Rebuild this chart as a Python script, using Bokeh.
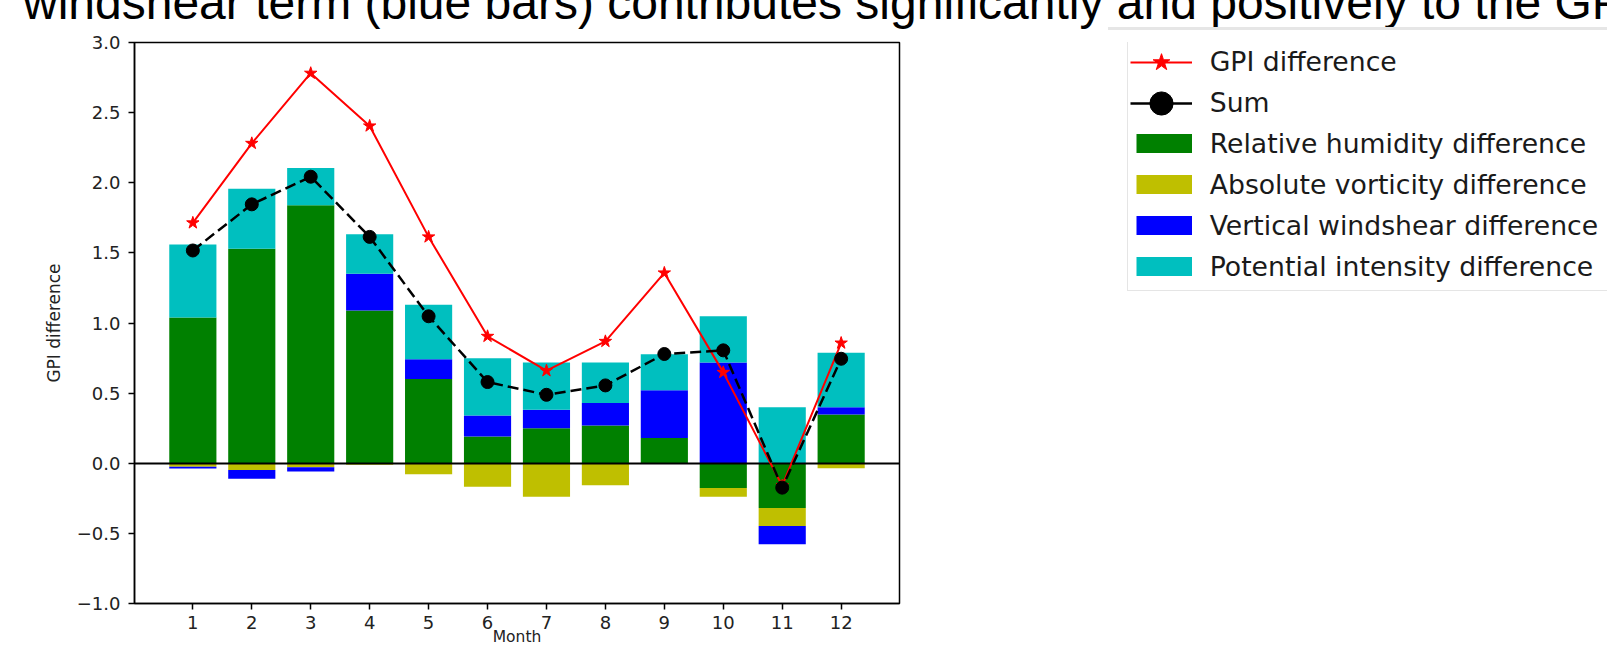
import numpy as np
from bokeh.plotting import figure
from bokeh.layouts import column, row
from bokeh.models import (Range1d, FixedTicker, Legend, LegendItem, Div)
from bokeh.embed import file_html
from bokeh.resources import INLINE

# ---------------- data ----------------
months = [1, 2, 3, 4, 5, 6, 7, 8, 9, 10, 11, 12]
month_labels = ["1", "2", "3", "4", "5", "6", "7", "8", "9", "10", "11", "12"]
y_ticks = [-1.0, -0.5, 0.0, 0.5, 1.0, 1.5, 2.0, 2.5, 3.0]
y_tick_labels = ["\u22121.0", "\u22120.5", "0.0", "0.5", "1.0", "1.5", "2.0", "2.5", "3.0"]

rh_diff = [1.04, 1.53, 1.84, 1.09, 0.60, 0.19, 0.25, 0.27, 0.18, -0.176, -0.319, 0.348]
av_diff = [-0.025, -0.048, -0.028, -0.01, -0.079, -0.167, -0.238, -0.157, 0.0, -0.062, -0.129, -0.036]
vw_diff = [-0.012, -0.062, -0.031, 0.262, 0.141, 0.151, 0.131, 0.16, 0.34, 0.719, -0.129, 0.052]
pi_diff = [0.52, 0.428, 0.266, 0.281, 0.39, 0.407, 0.338, 0.288, 0.258, 0.329, 0.40, 0.388]
sum_diff = [1.517, 1.846, 2.043, 1.614, 1.048, 0.579, 0.488, 0.555, 0.779, 0.805, -0.174, 0.745]
gpi_diff = [1.714, 2.281, 2.781, 2.405, 1.614, 0.905, 0.66, 0.869, 1.357, 0.648, -0.16, 0.857]

series_names = ["Relative humidity difference", "Absolute vorticity difference",
                "Vertical windshear difference", "Potential intensity difference"]
series_colors = ["#008000", "#bfbf00", "#0000ff", "#00bfbf"]
series_values = [rh_diff, av_diff, vw_diff, pi_diff]

title_text = "windshear term (blue bars) contributes significantly and positively to the GPI"

FONT = "DejaVu Sans"
W = 1607
TOP_H = 31
MAIN_H = 651 - TOP_H
MAIN_W = 1000
FR_TOP = 42      # window y of plot frame top
FR_BOTTOM = 603  # window y of plot frame bottom

# ---------------- heading strip (text cut at the top edge) ----------------
head_html = (
    '<div style="position:relative; width:%dpx; height:%dpx; overflow:hidden; background:white;">'
    '<div style="position:absolute; left:23px; top:-21px; font-family:\'Liberation Sans\', Arial, sans-serif; '
    'font-size:48px; line-height:48px; white-space:nowrap; color:#000;">%s</div>'
    '<div style="position:absolute; left:1108px; top:27px; width:520px; height:3px; background:#e6e6e6;"></div>'
    '</div>' % (W, TOP_H, title_text)
)
head = Div(text=head_html, width=W, height=TOP_H, margin=0, styles={"overflow": "hidden"})

# ---------------- main chart ----------------
p = figure(width=MAIN_W, height=MAIN_H, output_backend="svg", toolbar_location=None,
           title=None,
           x_range=Range1d(0.01, 12.99), y_range=Range1d(-1.0, 3.0),
           min_border_left=134, min_border_top=FR_TOP - TOP_H, min_border_right=MAIN_W - 899,
           min_border_bottom=651 - FR_BOTTOM)
p.background_fill_color = "white"
p.border_fill_color = "white"
p.outline_line_color = "black"
p.outline_line_width = 1.5
p.xgrid.visible = False
p.ygrid.visible = False

# stacked bars (positives stack up, negatives stack down)
pos_base = np.zeros(len(months))
neg_base = np.zeros(len(months))
for vals, color in zip(series_values, series_colors):
    v = np.array(vals, dtype=float)
    bottom = np.where(v >= 0, pos_base, neg_base)
    top = bottom + v
    pos_base = np.where(v >= 0, top, pos_base)
    neg_base = np.where(v < 0, top, neg_base)
    p.vbar(x=months, width=0.8, bottom=bottom, top=top,
           fill_color=color, line_color=None)

# zero line
p.hspan(y=[0.0], line_color="black", line_width=2)

# GPI difference, then Sum on top
p.line(months, gpi_diff, line_color="red", line_width=2)
p.scatter(months, gpi_diff, marker="star", size=13, fill_color="red", line_color="red")
p.line(months, sum_diff, line_color="black", line_width=2.5, line_dash="11 5")
p.scatter(months, sum_diff, marker="circle", size=13, fill_color="black", line_color="black")

# axes
p.xaxis.ticker = FixedTicker(ticks=months)
p.xaxis.major_label_overrides = {m: l for m, l in zip(months, month_labels)}
p.yaxis.ticker = FixedTicker(ticks=y_ticks)
p.yaxis.major_label_overrides = {t: l for t, l in zip(y_ticks, y_tick_labels)}
for ax in (p.xaxis, p.yaxis):
    ax.axis_line_color = "black"
    ax.axis_line_width = 1.5
    ax.major_tick_line_color = "black"
    ax.major_tick_line_width = 1.5
    ax.major_tick_out = 6
    ax.major_tick_in = 0
    ax.minor_tick_line_color = None
    ax.major_label_text_font = FONT
    ax.major_label_text_font_size = "18px"
    ax.major_label_text_color = "#222222"
    ax.axis_label_text_font = FONT
    ax.axis_label_text_font_style = "normal"
    ax.axis_label_text_color = "#222222"
p.xaxis.major_label_standoff = 6
p.yaxis.major_label_standoff = 8
p.yaxis.axis_label = "GPI difference"
p.yaxis.axis_label_text_font_size = "17px"
p.yaxis.axis_label_standoff = 10
p.xaxis.axis_label = "Month"
p.xaxis.axis_label_text_font_size = "15.5px"
p.xaxis.axis_label_standoff = -4

# ---------------- legend panel ----------------
LW = W - MAIN_W
lf = figure(width=LW, height=MAIN_H, output_backend="svg", toolbar_location=None,
            title=None,
            x_range=Range1d(100, 101), y_range=Range1d(100, 101),
            x_axis_location=None, y_axis_location=None,
            min_border_left=0, min_border_right=0, min_border_top=0, min_border_bottom=0)
lf.outline_line_color = None
lf.xgrid.visible = False
lf.ygrid.visible = False
lf.border_fill_color = "white"
lf.background_fill_color = "white"

# key renderers: same series, styled like the chart (they fall outside this panel's ranges)
k_gpi_line = lf.line(months, gpi_diff, line_color="red", line_width=2)
k_gpi_pts = lf.scatter(months, gpi_diff, marker="star", fill_color="red", line_color="red")
k_sum_line = lf.line(months, sum_diff, line_color="black", line_width=2.5)
k_sum_pts = lf.scatter(months, sum_diff, marker="circle", fill_color="black", line_color="black")
k_bars = [lf.line(months, vals, line_color=c, line_width=19, line_cap="butt")
          for vals, c in zip(series_values, series_colors)]

X0 = MAIN_W      # window x of legend panel left
YB = FR_BOTTOM   # legend offsets are taken from the (aligned) frame bottom

legend_b = Legend(items=[LegendItem(label="GPI difference", renderers=[]),
                         LegendItem(label="Sum", renderers=[])] +
                        [LegendItem(label=n, renderers=[r]) for n, r in zip(series_names, k_bars)],
                  location=(1126.7 - X0, YB - 291), orientation="vertical",
                  glyph_width=56, glyph_height=32, spacing=9, padding=8, margin=0,
                  label_standoff=18, label_width=420,
                  label_text_font=FONT, label_text_font_size="26.7px",
                  label_text_color="#1a1a1a",
                  border_line_color="#cccccc", border_line_width=1.5,
                  background_fill_color="white", background_fill_alpha=1.0)
lf.add_layout(legend_b)

legend_gpi = Legend(items=[LegendItem(label=" ", renderers=[k_gpi_line, k_gpi_pts])],
                    location=(1130 - X0, YB - 84), orientation="vertical",
                    glyph_width=62, glyph_height=44, padding=0, margin=0,
                    label_standoff=0, label_width=0,
                    border_line_alpha=0, background_fill_alpha=0)
lf.add_layout(legend_gpi)

legend_sum = Legend(items=[LegendItem(label=" ", renderers=[k_sum_line, k_sum_pts])],
                    location=(1130 - X0, YB - 132), orientation="vertical",
                    glyph_width=62, glyph_height=58, padding=0, margin=0,
                    label_standoff=0, label_width=0,
                    border_line_alpha=0, background_fill_alpha=0)
lf.add_layout(legend_sum)

layout = column(head, row(p, lf, spacing=0), spacing=0)
open("out.html", "w").write(file_html(layout, INLINE))
